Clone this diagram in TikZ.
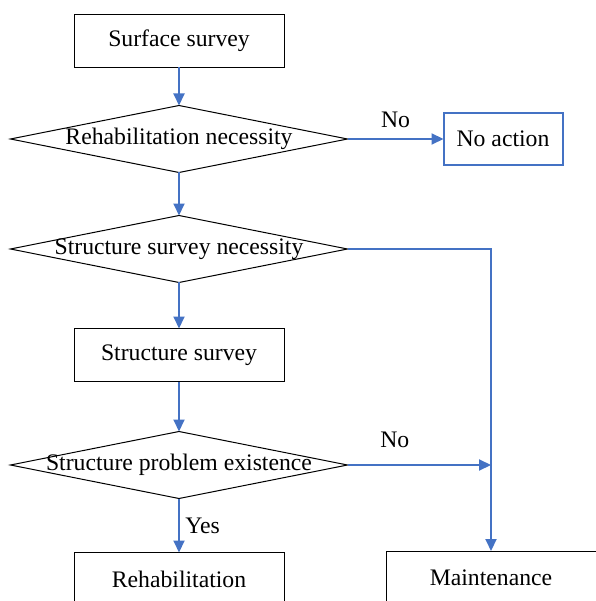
\documentclass[tikz,border=0pt]{standalone}
\usepackage{fontspec}
\setmainfont{Liberation Serif}
\usetikzlibrary{positioning,shapes.geometric,arrows.meta}
\definecolor{flowblue}{RGB}{68,114,196}

\begin{document}
\begin{tikzpicture}[font=\fontsize{23.7}{28}\selectfont,
                    task/.style={draw,line width=1pt,outer sep=0pt,
                                 minimum width=210pt,minimum height=53pt},
                    decision/.style={diamond,draw,line width=1pt,inner sep=0pt,
                                     outer sep=0pt,
                                     minimum width=337pt,minimum height=67pt},
                    flow/.style={draw=flowblue,line width=2pt,
                                 -{Triangle[length=12pt,width=11pt]}}]
  \useasboundingbox (0,0) rectangle (595pt,-601pt);
  \node[task] (surface) at (179pt,-41pt) {Surface survey};
  \node[decision,below=38pt of surface,
        label=center:Rehabilitation necessity] (need) {};
  \node[task,draw=flowblue,line width=2pt,minimum width=119pt,
        minimum height=52pt,right=96pt of need] (noaction) {No action};
  \node[decision,below=43pt of need,
        label=center:Structure survey necessity] (check) {};
  \node[task,below=46pt of check] (structure) {Structure survey};
  \node[decision,below=50pt of structure,
        label=center:Structure problem existence] (problem) {};
  % bottom row runs off the page edge, as in the original
  \node[task,below=54pt of problem] (rehab) {Rehabilitation};
  \node[task,anchor=north] (maint) at (491pt,-551pt) {Maintenance};
  \coordinate (join) at (problem.east -| maint.north);

  \draw[flow] (surface) -- (need);
  \draw[flow] (need) -- node[above=7pt] {No} (noaction);
  \draw[flow] (need) -- (check);
  \draw[flow] (check.east) -| (maint.north);
  \draw[flow] (check) -- (structure);
  \draw[flow] (structure) -- (problem);
  \draw[flow] (problem.east) -- node[pos=0.33,above=13pt] {No} (join);
  \draw[flow] (problem) -- node[right=2pt] {Yes} (rehab);
\end{tikzpicture}
\end{document}
